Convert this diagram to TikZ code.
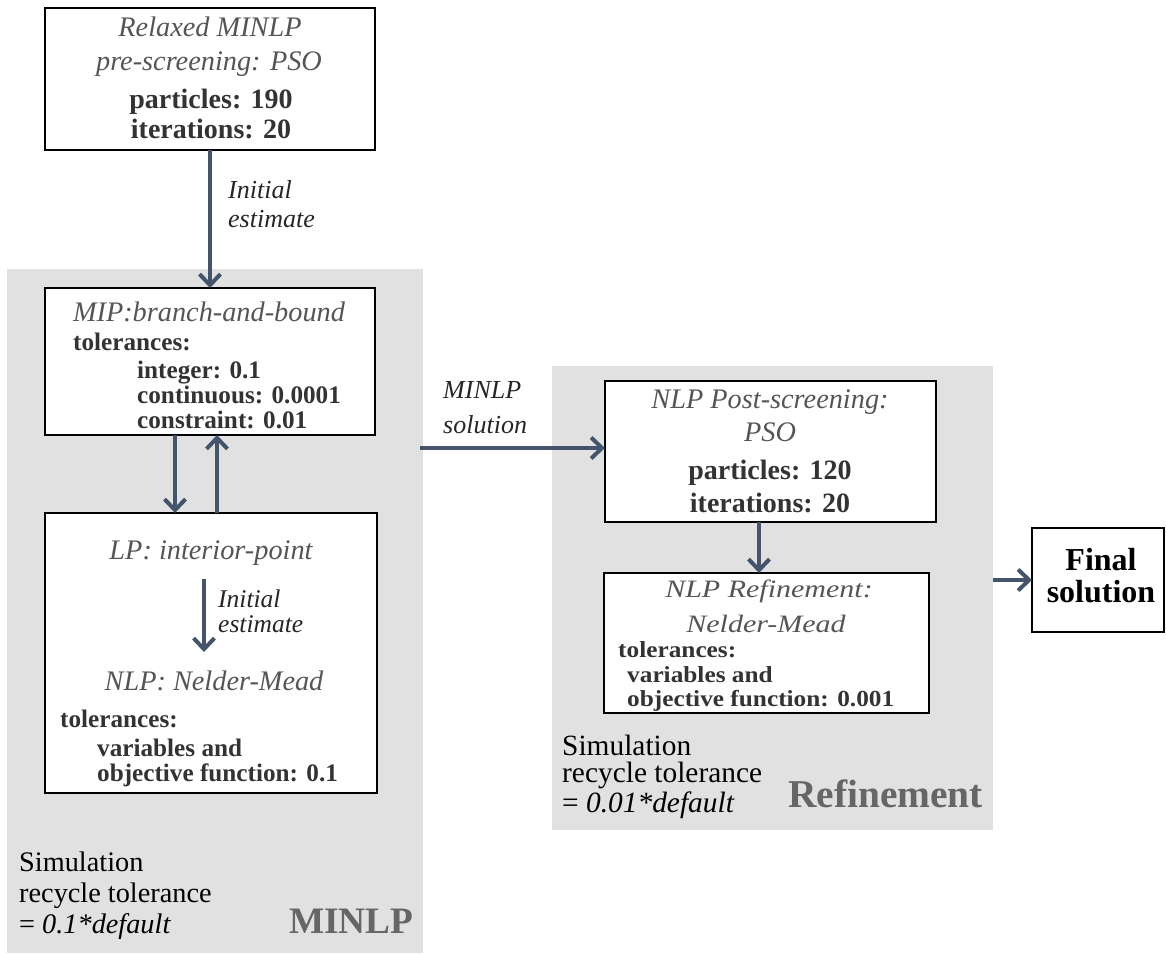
\documentclass[tikz,border=0pt]{standalone}
\usepackage{fontspec}
\setmainfont{Liberation Serif}
\usetikzlibrary{arrows.meta,calc}
\definecolor{panel}{RGB}{225,225,225}
\definecolor{flow}{RGB}{68,84,106}
\definecolor{headtxt}{RGB}{85,85,85}
\definecolor{boldtxt}{RGB}{51,51,51}
\definecolor{tagtxt}{RGB}{102,102,102}

\begin{document}
\begin{tikzpicture}[x=1pt,y=-1pt,
  panelbox/.style={fill=panel, draw=none, inner sep=0, outer sep=0, anchor=north west},
  box/.style={draw=black, line width=2.8pt, fill=white, inner sep=0, outer sep=0, anchor=north west},
  arr/.style={draw=flow, line width=4pt, -{Straight Barb[length=11pt,width=21pt]}},
  head/.style={inner sep=0, anchor=base, text=headtxt, font=\fontsize{28.3}{33}\selectfont\itshape},
  headsm/.style={inner sep=0, anchor=base, text=headtxt, font=\fontsize{25}{30}\selectfont\itshape},
  bigbold/.style={inner sep=0, anchor=base, text=boldtxt, font=\fontsize{28}{33}\selectfont\bfseries},
  tolbold/.style={inner sep=0, anchor=base west, text=boldtxt, font=\fontsize{25.2}{29}\selectfont\bfseries},
  smbold/.style={inner sep=0, anchor=base west, text=boldtxt, font=\fontsize{23}{27}\selectfont\bfseries},
  label/.style={inner sep=0, anchor=base west, text=black!85, font=\fontsize{26}{31}\selectfont\itshape},
  labelsm/.style={inner sep=0, anchor=base west, text=black!85, font=\fontsize{25.5}{29}\selectfont\itshape},
  note/.style={inner sep=0, anchor=base west, text=black, font=\fontsize{28.3}{33}\selectfont},
  notewide/.style={note, font=\fontsize{29.4}{34}\selectfont},
  tag/.style={inner sep=0, anchor=base west, text=tagtxt, font=\fontsize{37.3}{44}\selectfont\bfseries},
  tagwide/.style={tag, font=\fontsize{39.4}{45}\selectfont\bfseries},
  finaltxt/.style={inner sep=0, anchor=base, text=black, font=\fontsize{32}{37}\selectfont\bfseries}
]
\useasboundingbox (0,0) rectangle (1166,953);

% shaded stage panels
\node[panelbox, minimum width=416, minimum height=684] (minlp) at (7,269) {};
\node[panelbox, minimum width=441, minimum height=464] (refreg) at (552,366) {};

% boxes
\node[box, minimum width=330, minimum height=142] (pso) at (45,8) {};
\node[box, minimum width=330, minimum height=147] (mip) at (45,288) {};
\node[box, minimum width=332, minimum height=280] (lpnm) at (45,513) {};
\node[box, minimum width=331, minimum height=141] (post) at (605,381) {};
\node[box, minimum width=325, minimum height=140] (refine) at (604,573) {};
\node[box, minimum width=132, minimum height=104] (final) at (1032,528) {};

% pre-screening box
\node[head] (psoA) at (210,36) {Relaxed MINLP};
\node[head] (psoB) at (209,70) {pre-screening: PSO};
\node[bigbold] (psoC) at (211,108) {particles: 190};
\node[bigbold] (psoD) at (211,138) {iterations: 20};

% branch-and-bound box
\node[head] (mipA) at (209,321) {MIP:branch-and-bound};
\node[tolbold] (mipB) at (73,350) {tolerances:};
\node[tolbold] (mipC) at (137,378) {integer: 0.1};
\node[tolbold] (mipD) at (137,403) {continuous: 0.0001};
\node[tolbold] (mipE) at (137,428) {constraint: 0.01};

% LP / Nelder-Mead box
\node[head] (lpA) at (211,559) {LP: interior-point};
\node[head] (nmA) at (214,690) {NLP: Nelder-Mead};
\node[tolbold] (nmB) at (60,727) {tolerances:};
\node[tolbold] (nmC) at (97,756) {variables and};
\node[tolbold] (nmD) at (97,781) {objective function: 0.1};
\node[labelsm] (ieB1) at (218,607) {Initial};
\node[labelsm] (ieB2) at (218,632) {estimate};

% MINLP panel notes
\node[note] (simA1) at (19,871) {Simulation};
\node[note] (simA2) at (19,902) {recycle tolerance};
\node[note] (simA3) at (19,933) {= \textit{0.1*default}};
\node[tag] (tagA) at (289,933) {MINLP};

% post-screening box
\node[head] (postA) at (770,408) {NLP Post-screening:};
\node[head] (postB) at (770,441) {PSO};
\node[bigbold] (postC) at (770,479) {particles: 120};
\node[bigbold] (postD) at (770,512) {iterations: 20};

% refinement box (lettering set slightly wide)
\node[headsm] (refA) at (769,597) {\scalebox{1.2}[1]{NLP Refinement:}};
\node[headsm] (refB) at (766,632) {\scalebox{1.2}[1]{Nelder-Mead}};
\node[smbold] (refC) at (618,657) {\scalebox{1.1}[1]{tolerances:}};
\node[smbold] (refD) at (627,682) {\scalebox{1.1}[1]{variables and}};
\node[smbold] (refE) at (627,706) {\scalebox{1.1}[1]{objective function: 0.001}};

% refinement panel notes
\node[notewide] (simB1) at (562,755) {Simulation};
\node[notewide] (simB2) at (562,782) {recycle tolerance};
\node[notewide] (simB3) at (562,812) {= \textit{0.01*default}};
\node[tagwide] (tagB) at (788,807) {Refinement};

% final result
\node[finaltxt] (finA) at (1101,570) {Final};
\node[finaltxt] (finB) at (1101,602) {solution};

% edge labels
\node[label] (ieA1) at (228,198) {Initial};
\node[label] (ieA2) at (228,227) {estimate};
\node[label] (msA1) at (443,398) {MINLP};
\node[label] (msA2) at (443,433) {solution};

% connectors
\coordinate (xdown) at (175,0);
\coordinate (xup) at (217,0);
\coordinate (xin) at (204,0);
\coordinate (xpost) at (759,0);
\coordinate (msol) at (420,448);

\draw[arr] (pso.south) -- (mip.north);
\draw[arr] (mip.south -| xdown) -- (lpnm.north -| xdown);
\draw[arr] (lpnm.north -| xup) -- (mip.south -| xup);
\draw[arr] ($(lpA.base -| xin)+(0,20)$) -- ($(nmA.base -| xin)+(0,-38)$);
\draw[arr] (msol) -- (msol -| post.west);
\draw[arr] (post.south -| xpost) -- (refine.north -| xpost);
\draw[arr] (refreg.east |- final.west) -- (final.west);
\end{tikzpicture}
\end{document}
